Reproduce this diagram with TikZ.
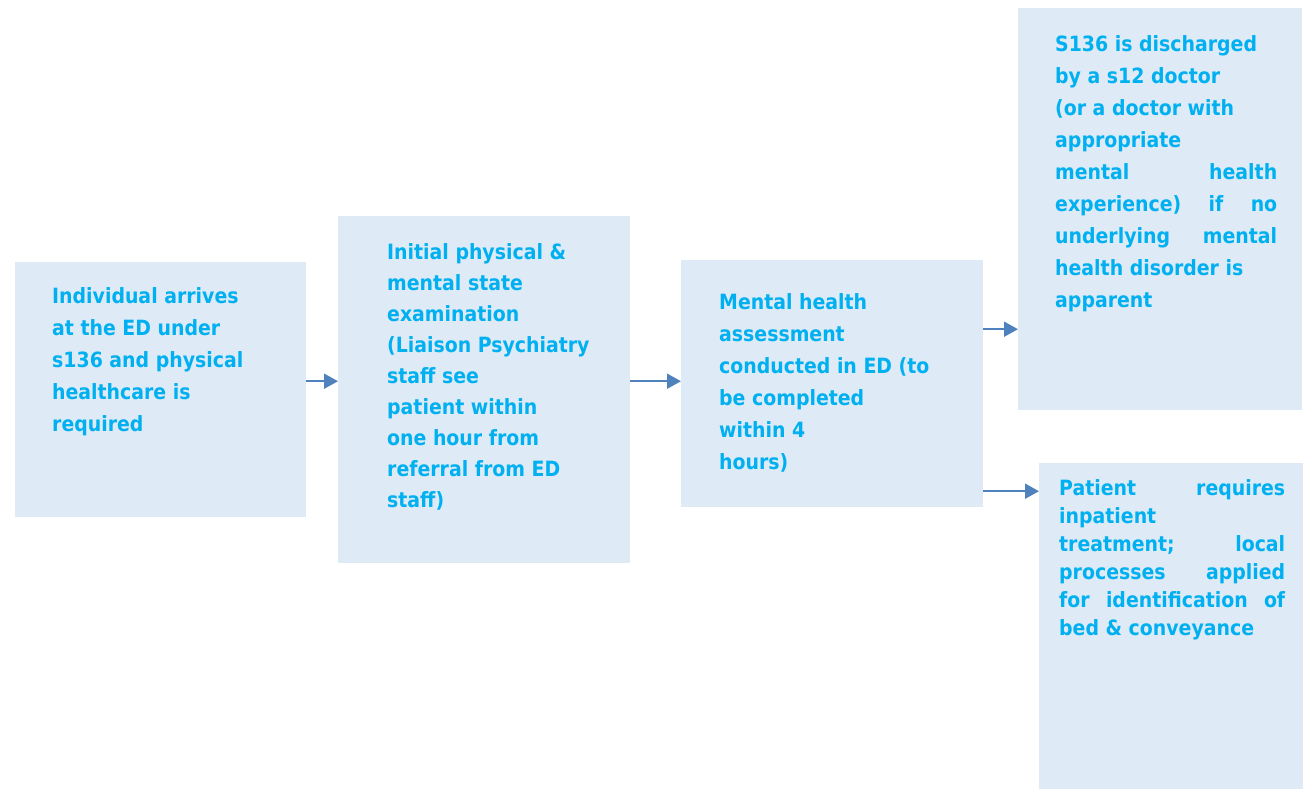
\documentclass[tikz,border=0pt]{standalone}
\usepackage{fontspec}
\setmainfont{DejaVu Sans}
\newfontfamily\stagefont{DejaVu Sans}[FakeStretch=0.9]
\usepackage{xcolor}
\usepackage{tikz}
\usetikzlibrary{arrows.meta,positioning,calc}
\definecolor{panel}{HTML}{DEEAF6}
\definecolor{cyantext}{HTML}{00B0F0}
\definecolor{arrowblue}{HTML}{4F81BD}

\tikzset{
  stage/.style={fill=panel, draw=none, inner sep=0pt, anchor=north west},
  stagetext/.style={anchor=north west, inner sep=0pt, align=left, text=cyantext,
        font=\stagefont\fontsize{21}{32}\selectfont\bfseries},
  flow/.style={draw=arrowblue, line width=1.8pt, -{Triangle[length=14pt,width=15pt]}},
}

\begin{document}
\begin{tikzpicture}[x=1pt, y=1pt]
  \useasboundingbox (0,0) rectangle (1303,-789);

  \node[stage, minimum width=291pt, minimum height=255pt] (arrive) at (15,-262) {};
  \node[stage, minimum width=292pt, minimum height=347pt] (exam) at (338,-216) {};
  \node[stage, minimum width=302pt, minimum height=247pt] (assess) at (681,-260) {};
  \node[stage, minimum width=284pt, minimum height=402pt] (discharge) at (1018,-8) {};
  \node[stage, minimum width=264pt, minimum height=326pt] (admit) at (1039,-463) {};

  \node[stagetext] (arrivetxt) at ($(arrive.north west)+(37,-25)$) {%
    Individual arrives\\ at the ED under\\ s136 and physical\\ healthcare is\\ required};
  \node[stagetext, font=\stagefont\fontsize{21}{31}\selectfont\bfseries] (examtxt) at ($(exam.north west)+(49,-27)$) {%
    Initial physical \&\\ mental state\\ examination\\ (Liaison Psychiatry\\ staff see\\
    patient within\\ one hour from\\ referral from ED\\ staff)};
  \node[stagetext] (assesstxt) at ($(assess.north west)+(38,-33)$) {%
    Mental health\\ assessment\\ conducted in ED (to\\ be completed\\ within 4\\ hours)};
  \node[stagetext] (dischargetxt) at ($(discharge.north west)+(37,-27)$) {%
    S136 is discharged\\ by a s12 doctor\\ (or a doctor with\\ appropriate\\
    \makebox[222pt][s]{mental health}\\ \makebox[222pt][s]{experience) if no}\\
    \makebox[222pt][s]{underlying mental}\\ health disorder is\\ apparent};
  \node[stagetext, font=\stagefont\fontsize{21}{28}\selectfont\bfseries] (admittxt) at ($(admit.north west)+(20,-16)$) {%
    \makebox[226pt][s]{Patient requires}\\ inpatient\\ \makebox[226pt][s]{treatment; local}\\
    \makebox[226pt][s]{processes applied}\\ \makebox[226pt][s]{for identification of}\\ bed \& conveyance};

  \draw[flow] ([yshift=8.5pt]arrive.east) -- ([yshift=8.5pt]arrive.east -| exam.west);
  \draw[flow] ([yshift=8.5pt]exam.east) -- ([yshift=8.5pt]exam.east -| assess.west);
  \draw[flow] ([yshift=54.5pt]assess.east) -- ([yshift=54.5pt]assess.east -| discharge.west);
  \draw[flow] ([yshift=-107.5pt]assess.east) -- ([yshift=-107.5pt]assess.east -| admit.west);
\end{tikzpicture}
\end{document}
